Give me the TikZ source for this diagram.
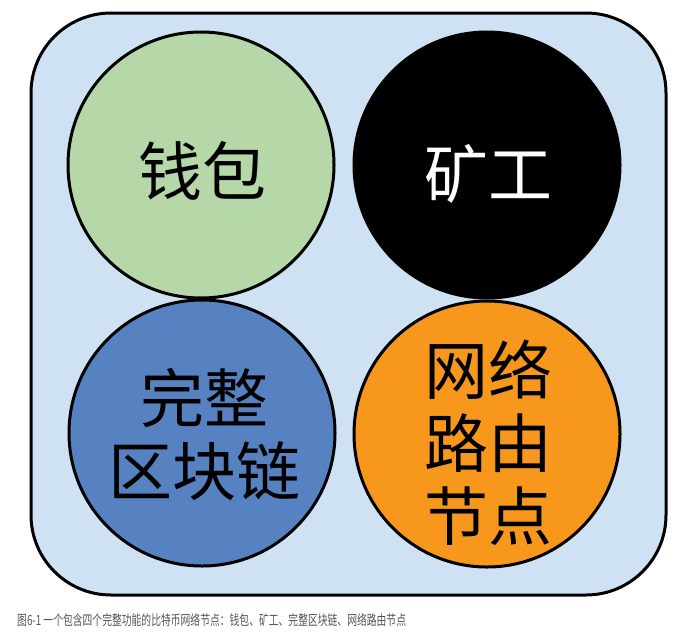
\documentclass[tikz,border=0pt]{standalone}
\usepackage{fontspec}
\newfontfamily\cjk{Noto Sans CJK SC}
\definecolor{bgblue}{HTML}{CFE2F3}
\definecolor{cgreen}{HTML}{B6D7A8}
\definecolor{cblue}{HTML}{5682C2}
\definecolor{corange}{HTML}{F7981D}
\definecolor{capgray}{HTML}{555555}
\tikzset{
  node circ/.style={circle, draw=black, line width=3pt, minimum size=266pt, inner sep=0pt},
  big label/.style={font=\cjk\fontsize{64}{73}\selectfont, align=center, inner sep=0pt},
}
\begin{document}
\begin{tikzpicture}[x=1pt,y=-1pt]
\useasboundingbox (0,0) rectangle (698,640);
\fill[white] (0,0) rectangle (698,640);
\draw[line width=3pt, fill=bgblue, rounded corners=80pt] (31,13) rectangle (666,595);
\node[node circ, fill=cgreen] (wallet) at (201,165) {};
\node[node circ, fill=black] (miner) at (487,165) {};
\node[node circ, fill=cblue] (chain) at (202,433) {};
\node[node circ, fill=corange] (router) at (487,434) {};
\node[big label] (walletT) at (202,171) {钱包};
\node[big label, text=white] (minerT) at (488,174) {矿工};
\node[big label] (chainT) at (204,434) {完整\\区块链};
\node[big label] (routerT) at (488,443) {网络\\路由\\节点};
\node[anchor=west, inner sep=0pt, text=capgray, font=\cjk\fontsize{14}{16}\selectfont] (cap) at (17,620) {\scalebox{0.70}[1]{图6-1 一个包含四个完整功能的比特币网络节点：钱包、矿工、完整区块链、网络路由节点}};
\end{tikzpicture}
\end{document}
